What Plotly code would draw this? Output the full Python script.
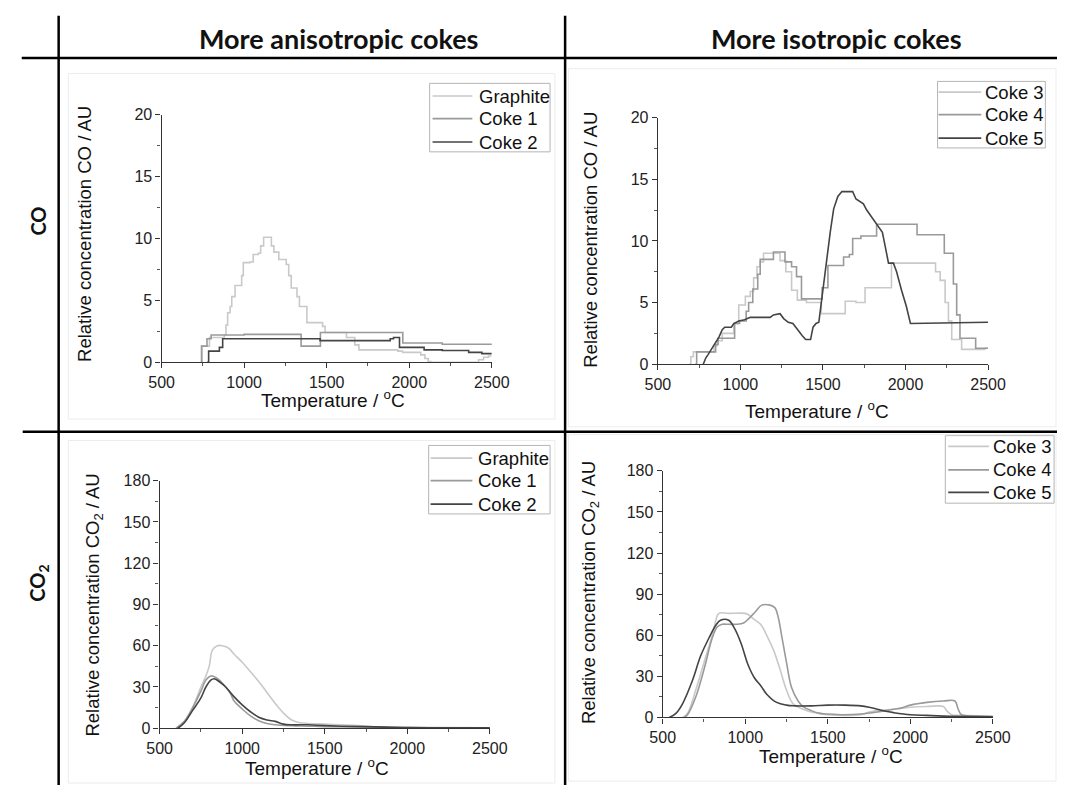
import plotly.graph_objects as go

W, H = 1075, 794

# ---------------- DATA ----------------
# CO, more anisotropic cokes (stepped signals, level start points)
co_graphite_x = [735, 745, 790, 880, 890, 900, 915, 925, 945, 985, 995, 1035, 1055, 1085, 1100, 1118, 1165, 1180, 1210, 1255, 1270, 1285, 1320, 1335, 1380, 1475, 1490, 1620, 1670, 1695, 1930, 1960, 2070, 2095, 2115, 2130, 2420, 2450, 2480, 2500]
co_graphite_y = [0, 1.3, 2.0, 2.2, 3.0, 4.0, 4.5, 5.3, 6.2, 7.0, 8.05, 8.1, 8.7, 8.8, 9.4, 10.1, 9.4, 8.9, 8.3, 7.9, 7.0, 6.0, 5.3, 4.5, 3.2, 2.9, 2.4, 2.0, 1.4, 1.0, 0.9, 0.8, 0.6, 0.3, 0.05, 0.0, 0.2, 0.4, 0.5, 0.5]
co_coke1_x = [738, 742, 775, 800, 1000, 1345, 1462, 1700, 1961, 2200, 2500]
co_coke1_y = [0, 1.3, 1.9, 2.2, 2.25, 1.3, 2.4, 2.4, 1.55, 1.45, 1.5]
co_coke2_x = [775, 785, 850, 870, 1460, 1885, 1905, 1941, 2090, 2200, 2360, 2440, 2500]
co_coke2_y = [0, 0.9, 1.2, 1.9, 1.75, 1.9, 2.0, 1.2, 1.0, 0.95, 0.8, 0.7, 0.7]

# CO, more isotropic cokes
co_coke3_x = [690, 700, 715, 840, 860, 890, 960, 990, 1030, 1060, 1080, 1100, 1120, 1140, 1240, 1275, 1310, 1345, 1400, 1490, 1635, 1700, 1755, 1915, 2182, 2210, 2240, 2260, 2280, 2340, 2480, 2500]
co_coke3_y = [0, 0.6, 1.0, 1.5, 1.9, 2.5, 3.3, 4.8, 5.5, 5.9, 7.0, 7.9, 8.3, 9.0, 8.4, 7.5, 6.0, 5.2, 5.0, 4.1, 5.1, 5.0, 6.2, 8.2, 7.5, 6.8, 5.0, 3.5, 2.0, 1.2, 1.3, 1.3]
co_coke4_x = [725, 735, 850, 865, 965, 995, 1035, 1050, 1075, 1105, 1120, 1200, 1270, 1310, 1340, 1370, 1495, 1530, 1625, 1660, 1680, 1730, 1825, 2070, 2235, 2290, 2310, 2330, 2425, 2500]
co_coke4_y = [0, 1.0, 1.6, 2.1, 3.3, 3.5, 4.3, 5.0, 6.1, 7.3, 8.5, 9.1, 8.3, 7.9, 7.1, 5.3, 6.2, 8.0, 8.7, 8.9, 10.2, 10.4, 11.35, 10.5, 9.0, 6.5, 4.0, 2.1, 1.3, 1.3]
co_coke5_x = [775, 790, 805, 825, 838, 855, 870, 890, 905, 945, 960, 990, 1025, 1060, 1180, 1200, 1240, 1262, 1290, 1318, 1345, 1375, 1395, 1425, 1440, 1458, 1475, 1490, 1505, 1525, 1545, 1565, 1590, 1615, 1680, 1700, 1720, 1745, 1765, 1785, 1800, 1830, 1860, 1878, 1897, 1927, 1946, 1976, 2005, 2030, 2200, 2500]
co_coke5_y = [0, 0.5, 0.8, 1.2, 1.5, 1.9, 2.2, 2.8, 3.0, 3.0, 3.3, 3.5, 3.6, 3.8, 3.8, 4.0, 4.1, 3.7, 3.4, 3.3, 2.8, 2.3, 2.0, 2.0, 3.0, 3.3, 3.4, 5.0, 6.8, 9.0, 10.8, 12.6, 13.6, 14.0, 14.0, 13.4, 13.2, 13.0, 12.5, 12.1, 11.9, 11.2, 10.7, 9.5, 8.2, 8.2, 7.5, 6.0, 4.7, 3.3, 3.35, 3.4]

# CO2, more anisotropic cokes
co2_graphite_x = [600, 650, 700, 750, 780, 800, 820, 850, 880, 920, 950, 1000, 1050, 1100, 1150, 1200, 1250, 1300, 1350, 1400, 1500, 1600, 1700, 1800, 2000, 2500]
co2_graphite_y = [0, 5, 15, 30, 38, 45, 57, 60, 60, 58, 54, 48, 41, 34, 26, 18, 11, 6, 4, 3.5, 3, 2.5, 2, 1, 0.5, 0.3]
co2_coke1_x = [600, 650, 700, 750, 780, 810, 840, 870, 900, 930, 950, 1000, 1050, 1100, 1150, 1200, 1300, 1400, 1500, 1700, 2000, 2500]
co2_coke1_y = [0, 5, 15, 27, 35, 38, 37, 34, 30, 25, 20, 14, 9, 5.5, 3.5, 2.5, 1.8, 1.5, 1.2, 1.0, 0.5, 0.3]
co2_coke2_x = [610, 650, 700, 750, 780, 810, 830, 860, 900, 950, 1000, 1050, 1100, 1150, 1200, 1250, 1300, 1400, 1450, 1600, 1800, 2000, 2500]
co2_coke2_y = [0, 4, 13, 22, 30, 35, 36, 34, 30, 23, 17, 12, 8, 6, 5, 3, 2.5, 2.5, 2.2, 1.5, 1, 0.5, 0.3]

# CO2, more isotropic cokes
co2_coke3_x = [620, 650, 700, 750, 800, 820, 840, 900, 1000, 1020, 1050, 1093, 1130, 1172, 1211, 1250, 1290, 1350, 1400, 1450, 1500, 1600, 1700, 1750, 1800, 1900, 2000, 2100, 2200, 2220, 2250, 2300, 2500]
co2_coke3_y = [0, 3, 20, 40, 60, 70, 76, 76, 76, 75, 72, 68, 60, 49, 35, 20, 10, 6, 4, 3, 2, 1.5, 2, 4, 5, 6, 7.5, 8, 8, 5, 2, 1.5, 1]
co2_coke4_x = [630, 650, 700, 750, 800, 830, 860, 900, 950, 990, 1020, 1060, 1100, 1150, 1180, 1200, 1220, 1250, 1280, 1320, 1350, 1400, 1450, 1500, 1600, 1700, 1800, 1900, 1950, 2000, 2100, 2200, 2270, 2290, 2310, 2400, 2500]
co2_coke4_y = [0, 2, 15, 35, 58, 66, 68, 68, 68, 69, 72, 77, 82, 82, 80, 73, 60, 40, 22, 12, 8, 5, 3, 2.5, 2, 2.5, 4, 6, 7, 9, 11, 12, 12, 6, 2, 1, 0.5]
co2_coke5_x = [540, 580, 620, 680, 730, 780, 820, 850, 900, 935, 975, 1015, 1055, 1095, 1130, 1190, 1250, 1300, 1400, 1500, 1600, 1700, 1750, 1800, 1850, 1900, 2000, 2100, 2200, 2500]
co2_coke5_y = [0, 3, 10, 27, 45, 58, 67, 71, 71, 65, 54, 39, 29, 23, 17, 11, 9, 8.5, 8.5, 9, 9, 8.5, 7.5, 6, 4.5, 3.5, 2, 1.5, 1, 0.5]

row_labels = ["CO", "CO<sub>2</sub>"]
col_labels = ["More anisotropic cokes", "More isotropic cokes"]
x_title = "Temperature / <sup>o</sup>C"
y_title_co = "Relative concentration CO / AU"
y_title_co2 = "Relative concentration CO<sub>2</sub> / AU"

# ---------------- STYLE ----------------
LIGHT, MED, DARK = "#c9c9c9", "#9a9a9a", "#444444"
FONT = "Liberation Sans, Arial, sans-serif"
HFONT = "Lato, Open Sans, sans-serif"

fig = go.Figure()

def px_x(v):
    return v / W

def px_y(v):
    return 1 - v / H

panels = {
    # panel: (x0, x1, ytop, ybottom) in pixels
    1: (153, 493, 109, 362),
    2: (664, 1004, 112, 364),
    3: (151, 491, 483, 736),
    4: (669, 1009, 473, 725),
}

series = [
    # panel, name, x, y, color, shape
    (1, "Graphite", co_graphite_x, co_graphite_y, LIGHT, "hv"),
    (1, "Coke 1", co_coke1_x, co_coke1_y, MED, "hv"),
    (1, "Coke 2", co_coke2_x, co_coke2_y, DARK, "hv"),
    (2, "Coke 3", co_coke3_x, co_coke3_y, LIGHT, "hv"),
    (2, "Coke 4", co_coke4_x, co_coke4_y, MED, "hv"),
    (2, "Coke 5", co_coke5_x, co_coke5_y, DARK, "linear"),
    (3, "Graphite", co2_graphite_x, co2_graphite_y, LIGHT, "spline"),
    (3, "Coke 1", co2_coke1_x, co2_coke1_y, MED, "spline"),
    (3, "Coke 2", co2_coke2_x, co2_coke2_y, DARK, "spline"),
    (4, "Coke 3", co2_coke3_x, co2_coke3_y, LIGHT, "spline"),
    (4, "Coke 4", co2_coke4_x, co2_coke4_y, MED, "spline"),
    (4, "Coke 5", co2_coke5_x, co2_coke5_y, DARK, "spline"),
]

for p, name, xs, ys, color, shape in series:
    sfx = "" if p == 1 else str(p)
    fig.add_trace(go.Scatter(
        x=xs, y=ys, name=name, mode="lines",
        line=dict(color=color, width=1.6, shape=shape),
        xaxis="x" + sfx, yaxis="y" + sfx, showlegend=False,
    ))

layout = dict(
    width=W, height=H, margin=dict(l=0, r=0, t=0, b=0),
    paper_bgcolor="white", plot_bgcolor="white",
    font=dict(family=FONT, color="#222", size=16),
)

for p, (x0, x1, yt, yb) in panels.items():
    sfx = "" if p == 1 else str(p)
    co2 = p >= 3
    layout["xaxis" + sfx] = dict(
        domain=[px_x(x0), px_x(x1)], anchor="y" + sfx, range=[500, 2500],
        tick0=500, dtick=500, ticks="outside", ticklen=5, tickwidth=1.2, tickcolor="#333",
        showline=True, linecolor="#333", linewidth=1.3, showgrid=False, zeroline=False,
        minor=dict(ticks="outside", ticklen=3, dtick=250, tick0=500, tickcolor="#555", showgrid=False),
        tickfont=dict(size=16, color="#222", family=FONT),
    )
    layout["yaxis" + sfx] = dict(
        domain=[px_y(yb), px_y(yt)], anchor="x" + sfx,
        range=[0, 180] if co2 else [0, 20], tick0=0, dtick=30 if co2 else 5,
        ticks="outside", ticklen=5, tickwidth=1.2, tickcolor="#333",
        showline=True, linecolor="#333", linewidth=1.3, showgrid=False, zeroline=False,
        minor=dict(ticks="outside", ticklen=3, dtick=15 if co2 else 2.5, tickcolor="#555", showgrid=False),
        tickfont=dict(size=16, color="#222", family=FONT),
    )

annotations = []
shapes = []

def ann(text, x, y, size, angle=0, family=FONT, bold=False, xanchor="center"):
    t = "<b>%s</b>" % text if bold else text
    annotations.append(dict(text=t, x=px_x(x), y=px_y(y), xref="paper", yref="paper",
                            showarrow=False, textangle=angle, xanchor=xanchor, yanchor="middle",
                            font=dict(size=size, family=family, color="#111")))

def line(x0, y0, x1, y1, w=2.5, c="black"):
    shapes.append(dict(type="line", xref="paper", yref="paper", x0=px_x(x0), y0=px_y(y0),
                       x1=px_x(x1), y1=px_y(y1), line=dict(color=c, width=w)))

def rect(x0, y0, x1, y1, c, w=1):
    shapes.append(dict(type="rect", xref="paper", yref="paper", x0=px_x(x0), y0=px_y(y0),
                       x1=px_x(x1), y1=px_y(y1), line=dict(color=c, width=w), fillcolor="rgba(0,0,0,0)"))

# headers / row labels
ann(col_labels[0], 335, 31, 27, family=HFONT, bold=True)
ann(col_labels[1], 848, 31, 27, family=HFONT, bold=True)
ann(row_labels[0], 26, 218, 20, angle=-90, family=HFONT, bold=True)
ann(row_labels[1], 26, 588, 20, angle=-90, family=HFONT, bold=True)

# axis titles
ann(y_title_co, 73, 231, 18.5, angle=-90)
ann(y_title_co, 595, 237, 18.5, angle=-90)
ann(y_title_co2, 83, 610, 18.5, angle=-90)
ann(y_title_co2, 594, 597, 18.5, angle=-90)
ann(x_title, 330, 400, 19)
ann(x_title, 828, 411, 19)
ann(x_title, 313, 776, 19)
ann(x_title, 842, 763, 19)

# legends (box, line samples, labels) per panel
legend_boxes = {
    # panel: (box x0, box y0, box x1, box y1, sample x0, sample x1, text x, row ys)
    1: (429, 77, 553, 147, 432, 473, 478, (90, 113, 137)),
    2: (952, 75, 1063, 143, 953, 997, 999, (86, 109, 133)),
    3: (428, 447, 553, 517, 430, 473, 477, (460, 483, 507)),
    4: (960, 437, 1072, 506, 963, 1005, 1007, (448, 472, 495)),
}
for p, (bx0, by0, bx1, by1, sx0, sx1, tx, rows) in legend_boxes.items():
    rect(bx0, by0, bx1, by1, "#b5b5b5")
    entries = [s for s in series if s[0] == p]
    for (pp, name, xs, ys, color, shape), ry in zip(entries, rows):
        line(sx0, ry, sx1, ry, w=1.6, c=color)
        ann(name, tx, ry, 18.5, xanchor="left")

# faint panel frames
for (a, b, c, d) in [(57, 67, 558, 420), (572, 62, 1074, 428), (57, 442, 558, 792), (572, 436, 1074, 790)]:
    rect(a, b, c, d, "#ececec")

# table grid
line(47, 8, 47, 794)
line(568.5, 8, 568.5, 794)
line(9, 51, 1075, 51)
line(10, 433, 1075, 433)

layout["annotations"] = annotations
layout["shapes"] = shapes

fig.update_layout(**layout)
fig.write_html("out.html")
